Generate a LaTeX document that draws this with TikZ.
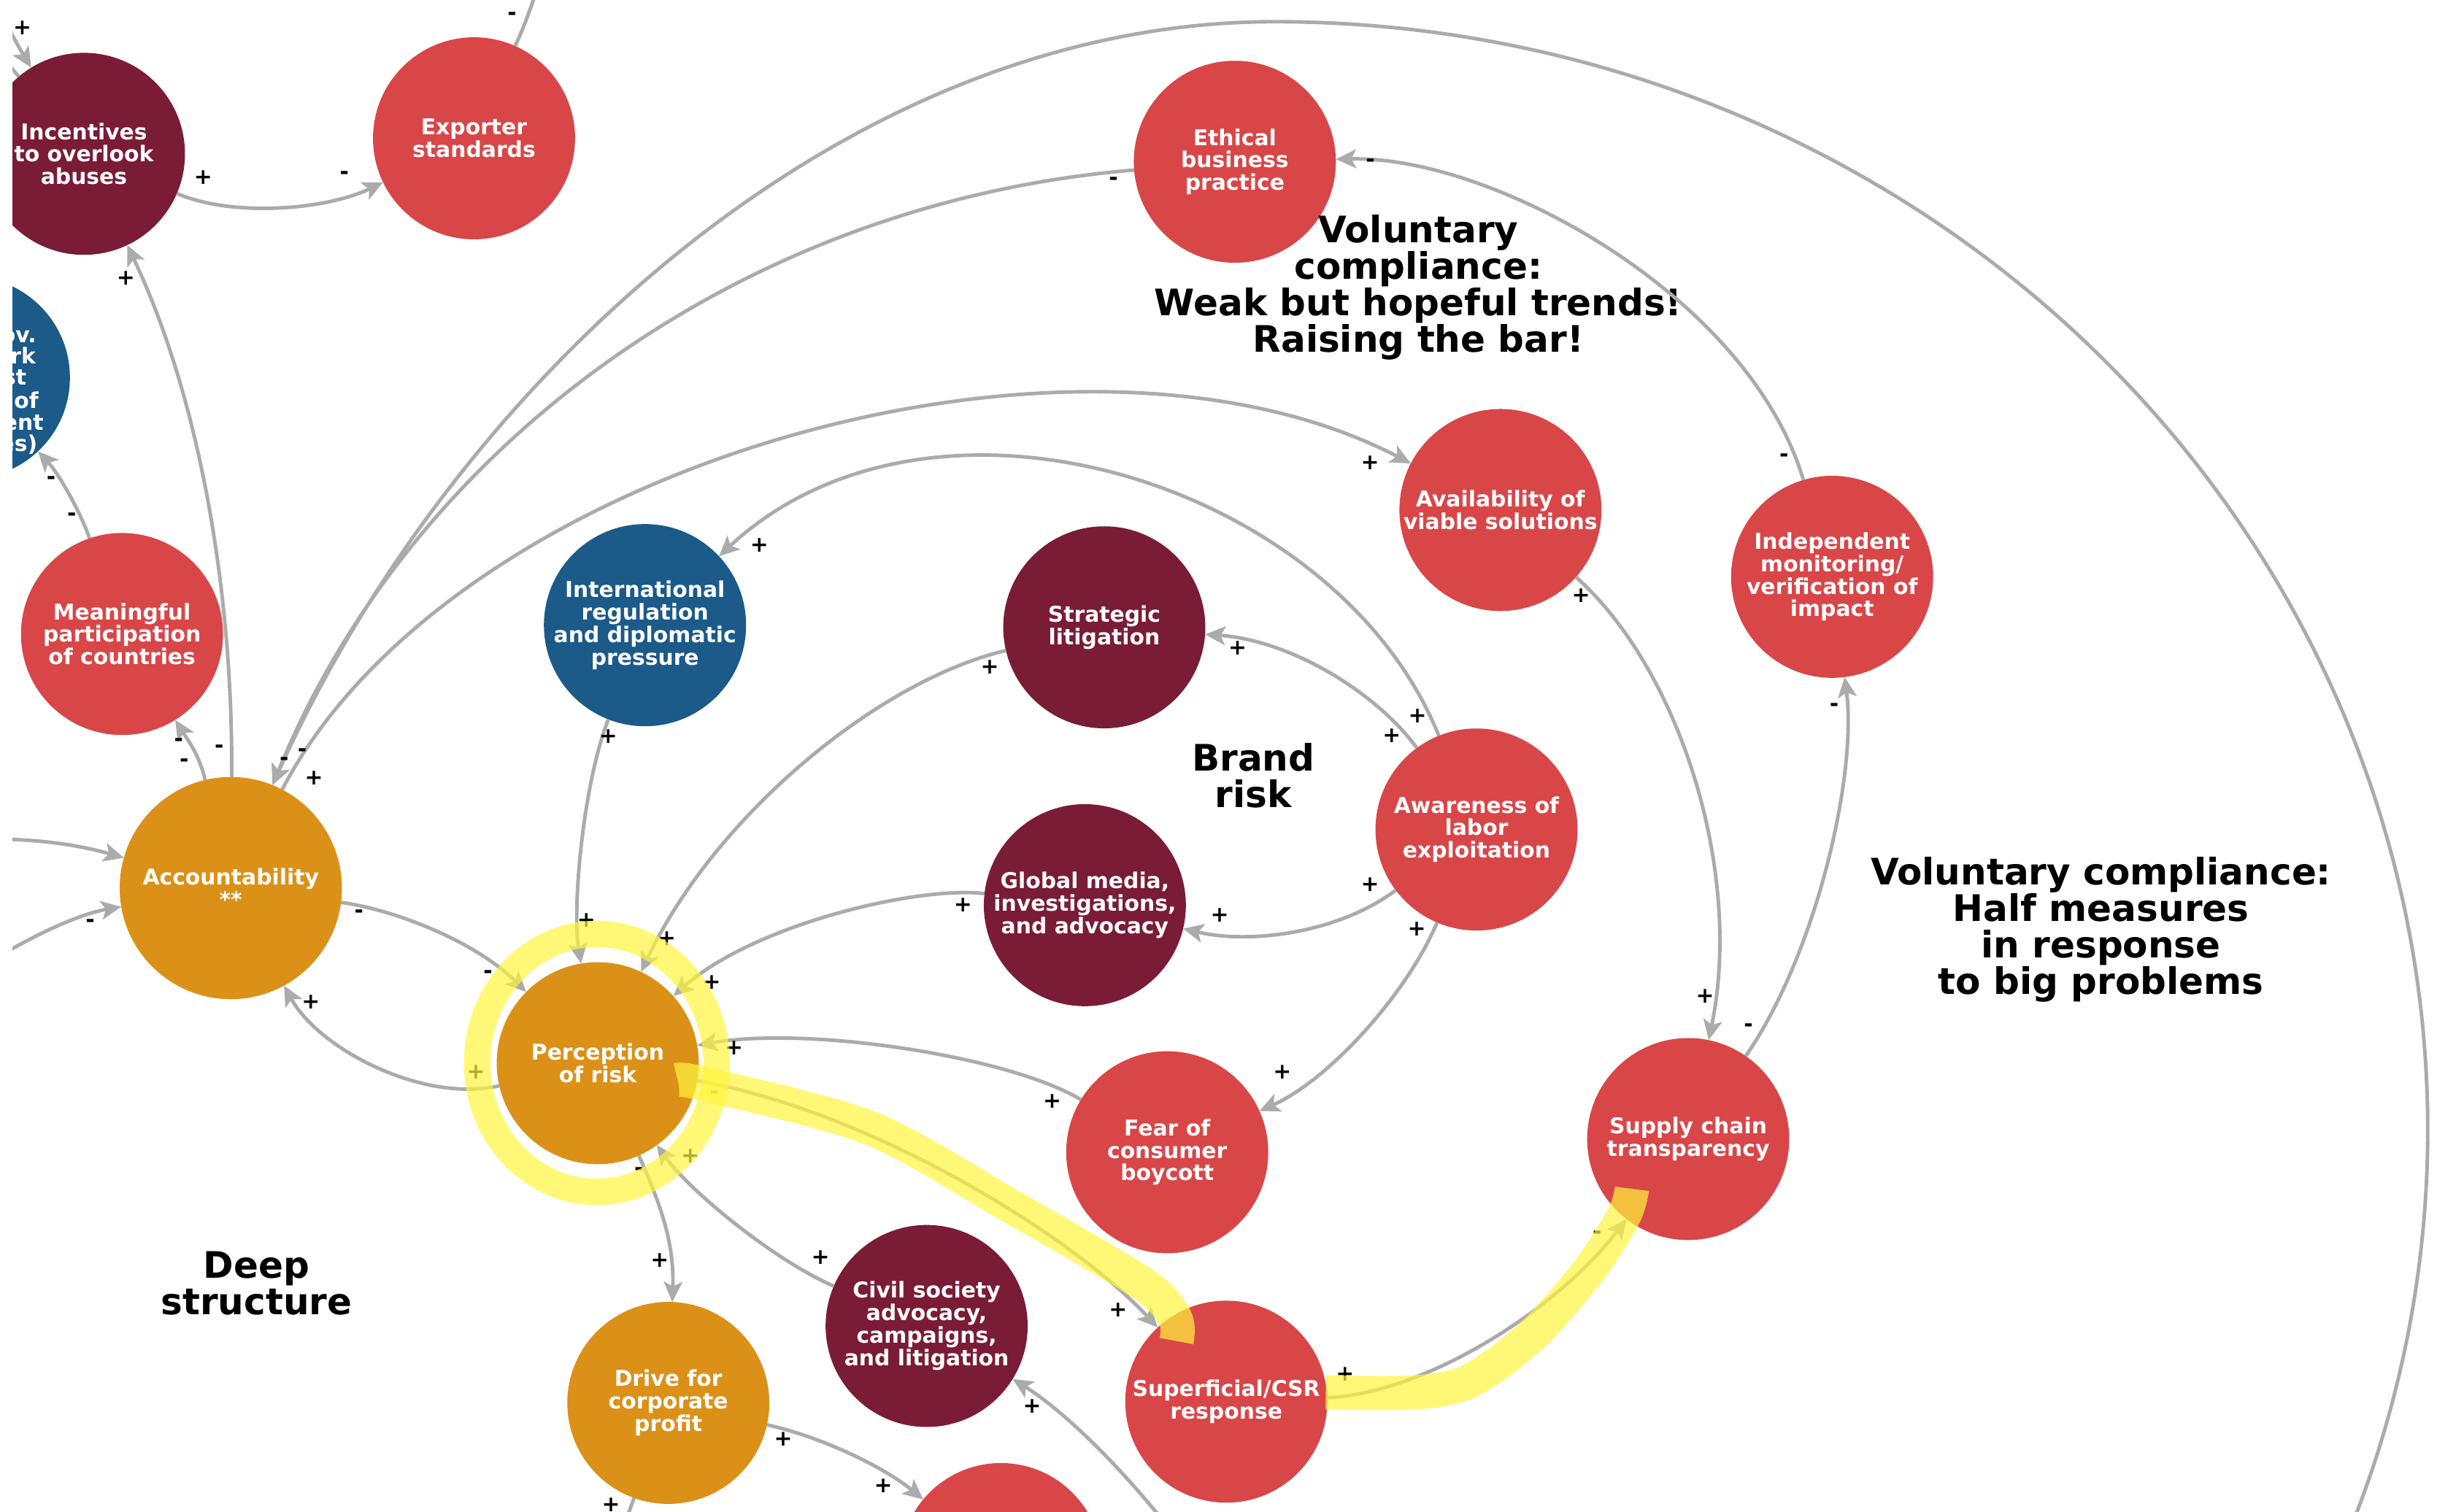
\documentclass[tikz,border=0pt]{standalone}
\usepackage{fontspec}
\setmainfont{DejaVu Sans}
\usetikzlibrary{arrows.meta}
\definecolor{cred}{HTML}{D94648}
\definecolor{cmar}{HTML}{7A1C36}
\definecolor{corg}{HTML}{DB9118}
\definecolor{cblu}{HTML}{1B5A89}
\definecolor{lgray}{HTML}{ABABAB}
\definecolor{hl}{RGB}{255,245,60}
\tikzset{
  var/.style={circle, inner sep=0pt, outer sep=0pt, minimum size=130pt, text=white, align=center,
    font=\fontsize{14}{14.5}\selectfont\bfseries},
  vred/.style={var, fill=cred},
  vmar/.style={var, fill=cmar},
  vorg/.style={var, fill=corg},
  vblu/.style={var, fill=cblu},
  gtxt/.style={inner sep=0pt, text=white, font=\fontsize{14}{14.5}\selectfont\bfseries},
  conn/.style={draw=lgray, line width=2.3pt, -{Stealth[length=13pt,width=12pt,inset=3pt]}},
  plainconn/.style={draw=lgray, line width=2.3pt},
  pol/.style={inner sep=0pt, text=black, font=\fontsize{14}{14}\selectfont\bfseries},
  biglabel/.style={inner sep=0pt, align=center, text=black, font=\fontsize{23.5}{23.5}\selectfont\bfseries},
  hlband/.style={draw=hl, draw opacity=0.7, line width=22pt, line cap=butt, line join=round},
  hlring/.style={draw=hl, draw opacity=0.7, line width=17pt},
}
\begin{document}
\begin{tikzpicture}[x=1pt,y=-1pt]
\useasboundingbox (0,0) rectangle (1568,973);
\clip (8,0) rectangle (1568,973);

% ---------- nodes ----------
\node[vmar] (Inc) at (54,99) {Incentives\\to overlook\\abuses};
\node[vred] (Exp) at (305,89) {Exporter\\standards};
\node[vblu] (Gov) at (-20,243) {};
\foreach \t/\x/\y [count=\i] in {ov./23.5/220.7, rk/23.2/234, st/17.2/247.6, of/25/262.6, ent/28.2/276.7, es)/24.3/290.4}
  \node[gtxt, anchor=base east] (g\i) at (\x,\y) {\t};
\node[vred] (Mea) at (78.5,408) {Meaningful\\participation\\of countries};
\node[vorg, minimum size=143pt] (Acc) at (148.5,571.5) {Accountability\\**};
\node[vblu] (Int) at (415,402.3) {International\\regulation\\and diplomatic\\pressure};
\node[vmar] (Str) at (710.5,403.7) {Strategic\\litigation};
\node[vred] (Eth) at (794.5,104.1) {Ethical\\business\\practice};
\node[vred] (Ava) at (965.4,328.2) {Availability of\\viable solutions};
\node[vred] (Ind) at (1178.8,371.2) {Independent\\monitoring/\\verification of\\impact};
\node[vred] (Awa) at (950,533.8) {Awareness of\\labor\\exploitation};
\node[vmar] (Glo) at (698,582.5) {Global media,\\investigations,\\and advocacy};
\node[vorg] (Per) at (384.6,684.2) {Perception\\of risk};
\node[vred] (Fea) at (751,741.5) {Fear of\\consumer\\boycott};
\node[vred] (Sup) at (1086.2,733) {Supply chain\\transparency};
\node[vmar] (Civ) at (596.2,853.3) {Civil society\\advocacy,\\campaigns,\\and litigation};
\node[vorg] (Dri) at (430,902.8) {Drive for\\corporate\\profit};
\node[vred] (Sfc) at (789,902) {Superficial/CSR\\response};
\node[vred] (Bot) at (644,1006.5) {};

% ---------- big labels ----------
\node[biglabel, anchor=north] (lblA) at (912.6,138) {Voluntary\\compliance:\\Weak but hopeful trends!\\Raising the bar!};
\node[biglabel, anchor=north] (lblB) at (1351.8,551.4) {Voluntary compliance:\\Half measures\\in response\\to big problems};
\node[biglabel, anchor=north] (lblC) at (806.4,478) {Brand\\risk};
\node[biglabel, anchor=north] (lblD) at (165,805) {Deep\\structure};

% ---------- free ends ----------
\coordinate (cE1) at (-3,3);
\coordinate (cE1b) at (-5,20);
\coordinate (cE3) at (352,-25);
\coordinate (cE7) at (-5,540);
\coordinate (cE8) at (-5,618);
\coordinate (cE19) at (396,995);
\coordinate (cE20) at (765,1000);
\coordinate (cOut) at (1492.5,1028.3);

% ---------- connectors ----------
\draw[conn] (cE1) .. controls (5,17) and (13,32) .. (Inc);
\draw[plainconn] (Inc) .. controls (0,35) .. (cE1b);
\draw[conn] (Inc) .. controls (150,140) and (210,135) .. (Exp);
\draw[plainconn] (Exp) .. controls (338,15) .. (cE3);
\draw[conn] (Acc) .. controls (150,380) and (128,255) .. (Inc);
\draw[conn] (Acc) .. controls (128,485) and (120,475) .. (Mea);
\draw[conn] (Mea) .. controls (52,330) and (38,305) .. (Gov);
\draw[conn] (cE7) .. controls (30,540) and (55,545) .. (Acc);
\draw[conn] (cE8) .. controls (25,600) and (52,588) .. (Acc);
\draw[conn] (Acc) .. controls (252,585) and (305,605) .. (Per);
\draw[conn] (Per) .. controls (272,710) and (205,675) .. (Acc);
\draw[conn] (Int) .. controls (375,505) and (368,585) .. (Per);
\draw[conn] (Str) .. controls (565,438) and (460,525) .. (Per);
\draw[conn] (Glo) .. controls (590,570) and (485,595) .. (Per);
\draw[conn] (Fea) .. controls (650,680) and (520,660) .. (Per);
\draw[conn] (Per) .. controls (560,715) and (690,795) .. (Sfc);
\draw[conn] (Civ) .. controls (500,812) and (445,768) .. (Per);
\draw[conn] (Per) .. controls (425,775) and (434,800) .. (Dri);
\draw[conn] (Dri) .. controls (530,925) and (570,945) .. (Bot);
\draw[plainconn] (Dri) .. controls (404,975) .. (cE19);
\draw[conn] (cE20) .. controls (720,940) and (680,905) .. (Civ);
\draw[conn] (Sfc) .. controls (915,897) and (1000,845) .. (Sup);
\draw[conn] (Ava) .. controls (1080,430) and (1122,560) .. (Sup);
\draw[conn] (Sup) .. controls (1168,615) and (1195,500) .. (Ind);
\draw[conn] (Ind) .. controls (1125,190) and (960,100) .. (Eth);
\draw[conn] (Acc) .. controls (290,300) and (690,185) .. (Ava);
\draw[conn] (Eth) .. controls (480,130) and (265,285) .. (Acc);
\draw[conn] (cOut) arc[start angle=25, end angle=-90, x radius=742, y radius=713]
   .. controls (540,14) and (290,250) .. (Acc.68);
\draw[conn] (Awa) .. controls (885,445) and (830,412) .. (Str);
\draw[conn] (Awa) .. controls (860,310) and (600,230) .. (Int);
\draw[conn] (Awa) .. controls (862,600) and (805,608) .. (Glo);
\draw[conn] (Awa) .. controls (905,640) and (855,695) .. (Fea);

% ---------- polarity labels ----------
\foreach \x/\y [count=\i] in {14.4/18, 130.7/114.3, 80.9/179.2, 202/500.5, 200/645, 306.2/689.9,
  391.4/473.7, 377.2/592.3, 636.8/429.3, 429/604, 619.6/582.3, 457.9/632, 677/708.6, 472.2/674.6,
  719.4/842.8, 527.9/809.3, 444.2/744, 424.4/811.1, 503.9/925.9, 568.3/956.1, 393.1/968.3,
  664.1/905.1, 865.4/884.2, 1017.2/383.2, 1097/641, 881.5/297.6, 895.5/473.2, 796.2/416.9,
  912/460.7, 488.5/350.8, 881.5/569, 784.8/588.9, 911.5/597.8, 825/690}
  \node[pol] (pp\i) at (\x,\y) {+};
\foreach \x/\y [count=\i] in {221.6/112.8, 329.4/10.5, 115/477.5, 118.5/491, 141/482, 182.8/489.7,
  194.4/484.4, 32.9/309.1, 46.2/332.6, 58/594, 231/588, 314/627, 459.6/704.7, 411.1/753.6,
  1027.6/794.7, 1125/661.1, 1180.1/455.3, 1147.8/294.5, 881.7/104.8, 716.4/116.4}
  \node[pol] (pm\i) at (\x,\y) {-};

% ---------- highlight ----------
\draw[hlring] (384,684) ellipse [x radius=77, y radius=83];
\draw[hlband] plot[smooth, tension=0.5] coordinates {(436,695) (455,698) (560,726) (650,776) (735,826) (756,848) (757,863)};
\draw[hlband] plot[smooth, tension=0.5] coordinates {(853,896) (910,896) (945,889) (985,860) (1022,818) (1045,782) (1050,765)};
\end{tikzpicture}
\end{document}
